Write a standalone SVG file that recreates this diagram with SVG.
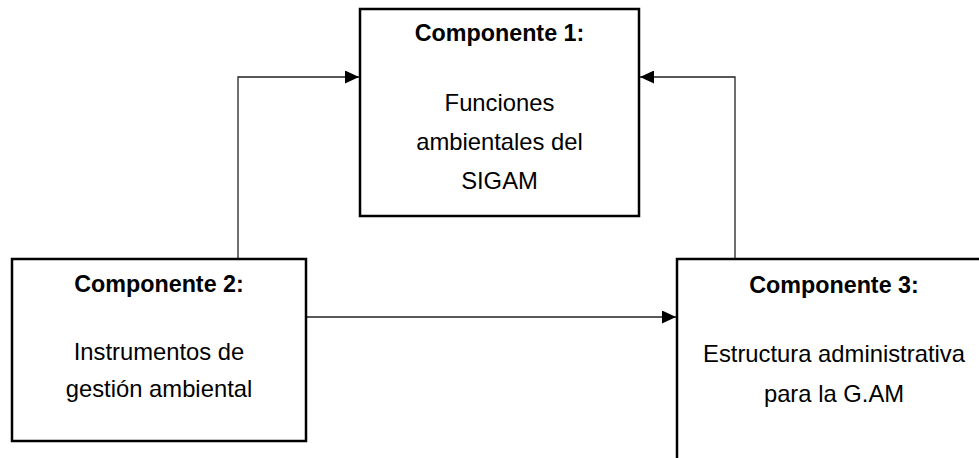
<svg xmlns="http://www.w3.org/2000/svg" width="979" height="458" viewBox="0 0 979 458">
<style>
.box{fill:#fff;stroke:#000;stroke-width:2.5}
.conn{fill:none;stroke:#222;stroke-width:1.3}
.t{font-family:"Liberation Sans",Arial,sans-serif;font-size:23.8px;fill:#000;text-anchor:middle}
.b{font-weight:bold;font-size:23.3px}
</style>
<defs>
<marker id="arr" viewBox="0 0 14 13" refX="14" refY="6.5" markerWidth="14" markerHeight="13" markerUnits="userSpaceOnUse" orient="auto">
<path d="M0,0 L14,6.5 L0,13 Z" fill="#000"/>
</marker>
</defs>
<g id="connectors">
<path class="conn" d="M238,259 V77 H359" marker-end="url(#arr)"/>
<path class="conn" d="M735,259 V77 H640" marker-end="url(#arr)"/>
<path class="conn" d="M306,317 H676" marker-end="url(#arr)"/>
</g>
<g id="componente1">
<rect class="box" x="360" y="9" width="279" height="207"/>
<text class="t b" x="499.5" y="41">Componente 1:</text>
<text class="t" x="499.5" y="111">Funciones</text>
<text class="t" x="499.5" y="150">ambientales del</text>
<text class="t" x="499.5" y="189">SIGAM</text>
</g>
<g id="componente2">
<rect class="box" x="12" y="259" width="294" height="182"/>
<text class="t b" x="159" y="292">Componente 2:</text>
<text class="t" x="159" y="360">Instrumentos de</text>
<text class="t" x="159" y="397">gestión ambiental</text>
</g>
<g id="componente3">
<rect class="box" x="677" y="259" width="314" height="220"/>
<text class="t b" x="834" y="293">Componente 3:</text>
<text class="t" x="834" y="362">Estructura administrativa</text>
<text class="t" x="834" y="402">para la G.AM</text>
</g>
</svg>
